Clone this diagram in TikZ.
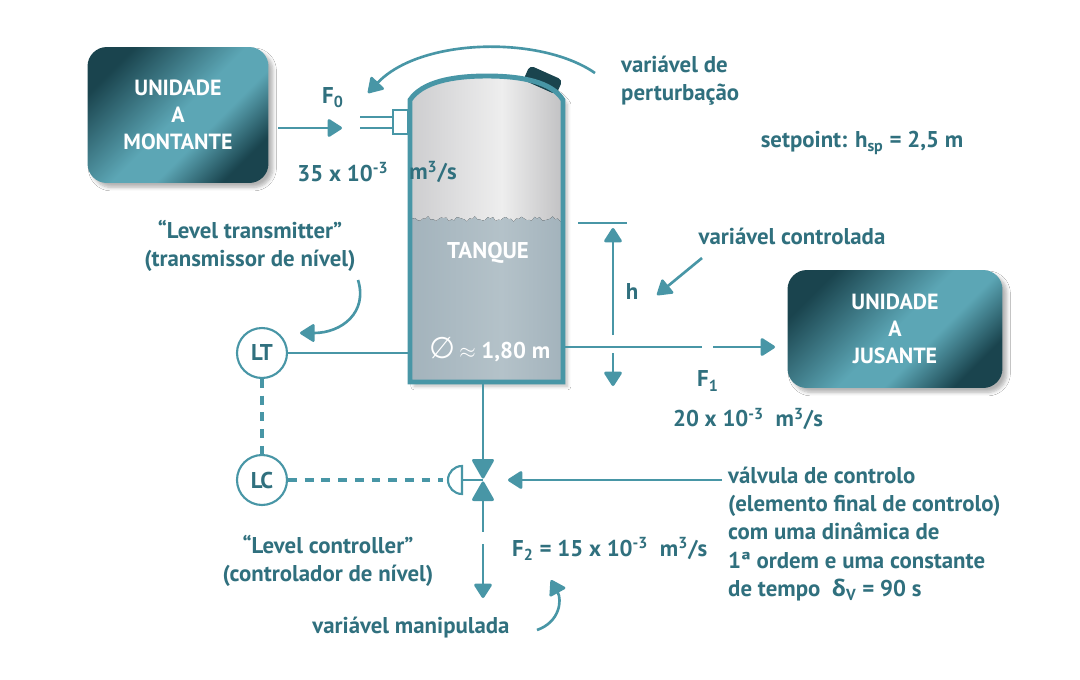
\documentclass[tikz,border=0pt]{standalone}
\usepackage{fontspec}
\setmainfont{PT Sans}
\newfontfamily\grk{Open Sans}
\newfontfamily\sym{DejaVu Sans}
\usetikzlibrary{arrows.meta,shadows.blur}

\definecolor{pteal}{RGB}{72,150,166}
\definecolor{ptext}{RGB}{48,112,126}
\definecolor{pdark}{RGB}{26,68,78}
\definecolor{plight}{RGB}{92,166,181}
\definecolor{pwater}{RGB}{163,179,188}
\definecolor{pwaterl}{RGB}{180,194,201}
\definecolor{pshell}{RGB}{205,205,207}
\definecolor{pshelll}{RGB}{238,238,238}

\pgfdeclarehorizontalshading{unitshade}{100bp}{color(0bp)=(pdark); color(25bp)=(pdark); color(50bp)=(plight); color(60bp)=(plight); color(75bp)=(pdark); color(100bp)=(pdark)}
\pgfdeclarehorizontalshading{shellshade}{100bp}{color(0bp)=(pshell); color(25bp)=(pshell); color(55bp)=(pshelll); color(75bp)=(pshell!85!gray); color(100bp)=(pshell!85!gray)}
\pgfdeclarehorizontalshading{watershade}{100bp}{color(0bp)=(pwater); color(25bp)=(pwater); color(55bp)=(pwaterl); color(75bp)=(pwater); color(100bp)=(pwater)}

\tikzset{
  pipe/.style={draw=pteal,line width=1.7pt},
  flow/.style={pipe,-{Triangle[round,width=11pt,length=9pt]}},
  note/.style={draw=pteal,line width=1.5pt,-{Triangle[round,width=11pt,length=9pt]}},
  signal/.style={draw=pteal,line width=2pt,dash pattern=on 5pt off 4.5pt},
  unit/.style={rounded corners=11pt,shading=unitshade,shading angle=-45,text=white,align=center,
    font=\bfseries\fontsize{12.5}{15.5}\selectfont,blur shadow={shadow blur steps=6,shadow opacity=30}},
  instr/.style={circle,draw=pteal,line width=1.2pt,fill=white,minimum size=1cm,inner sep=0pt},
  lidcap/.style={rectangle,fill=pdark,rounded corners=2.5pt,minimum width=0.72cm,minimum height=0.32cm,inner sep=0pt}
}

\begin{document}
\begin{tikzpicture}[x=0.02cm,y=-0.02cm,font=\bfseries\fontsize{13}{16}\selectfont,every node/.append style={text=ptext}]
  \useasboundingbox[fill=white] (0,0) rectangle (1080,680);

  % units
  \node[unit,minimum width=3.62cm,minimum height=2.72cm] (montante) at (178,115) {UNIDADE\\A\\MONTANTE};
  \node[unit,minimum width=4.3cm,minimum height=2.36cm] (jusante) at (895,329) {UNIDADE\\A\\JUSANTE};

  % tank
  \fill[shading=shellshade,blur shadow={shadow blur steps=6,shadow opacity=25}]
    (410,100) .. controls (422,82) and (452,76) .. (487,76) .. controls (522,76) and (552,82) .. (563,100) -- (563,382) -- (410,382) -- cycle;
  \fill[shading=watershade] (410,382) -- (410,220) -- plot[domain=410:563,samples=60] (\x,{219+1.6*sin((\x-400)*23)+1.2*sin((\x-400)*61)}) -- (563,382) -- cycle;
  \node[lidcap,rotate=-24] (top) at (543,80) {};
  \draw[pteal,line width=2.8pt] (410,100) .. controls (422,82) and (452,76) .. (487,76) .. controls (522,76) and (552,82) .. (563,100) -- (563,382) -- (410,382) -- cycle;
  \node[text=white] (tanque) at (488,253) {TANQUE};
  \node[text=white] (diam) at (490,350) {{\sym\mdseries\fontsize{17}{17}\selectfont ∅}$\,\approx$ 1,80 m};

  % inlet
  \coordinate (f0a) at (278,128);
  \coordinate (f0b) at (342,128);
  \draw[flow] (f0a) -- (f0b);
  \draw[pteal,line width=1.3pt] (360,117) -- (393,117) (360,128) -- (393,128);
  \draw[pteal,line width=1.3pt,fill=white] (393,110) rectangle (408,134);
  \node (f0) at (333,98) {F\textsubscript{0}};
  \node (q0) at (343,172) {35 x 10\textsuperscript{-3}};
  \node (q0u) at (433,172) {m\textsuperscript{3}/s};
  \draw[note] (595,73) .. controls (540,35) and (420,38) .. (368,93);
  \node[anchor=west,align=left] (pert) at (615,81) {variável de\\perturbação};
  \node (sp) at (862,143) {setpoint: h\textsubscript{sp} = 2,5 m};

  % level h
  \draw[pipe] (578,223) -- (627,223);
  \draw[flow] (613,335) -- (613,228);
  \draw[flow] (613,353) -- (613,386);
  \node (hlab) at (632,292) {h};
  \node (ctrl) at (792,236) {variável controlada};
  \draw[note] (702,258) -- (657,295);

  % outlet
  \coordinate (f1a) at (702,347);
  \coordinate (f1b) at (713,347);
  \draw[pipe] (565,347) -- (f1a);
  \draw[flow] (f1b) -- (775,347);
  \node (f1) at (708,381) {F\textsubscript{1}};
  \node (q1) at (748,419) {20 x 10\textsuperscript{-3}\ \ m\textsuperscript{3}/s};

  % instruments
  \node[instr] (lt) at (262,353) {LT};
  \node[instr] (lc) at (262,480) {LC};
  \draw[pipe] (lt) -- (410,353);
  \draw[signal] (lt) -- (lc);
  \draw[signal] (lc) -- (443,480);
  \node[align=center] (ltlab) at (250,246) {“Level transmitter”\\(transmissor de nível)};
  \draw[note] (358,280) .. controls (368,312) and (342,333) .. (300,333);
  \node[align=center] (lclab) at (328,561) {“Level controller”\\(controlador de nível)};

  % valve
  \draw[pipe] (483,382) -- (483,459);
  \draw[pipe] (483,501) -- (483,532);
  \draw[flow] (483,544) -- (483,598);
  \fill[pteal,rounded corners=1.5pt] (471,459) -- (495,459) -- (483,480) -- cycle;
  \fill[pteal,rounded corners=1.5pt] (471,501) -- (495,501) -- (483,480) -- cycle;
  \draw[pteal,line width=1.2pt] (462,480) -- (483,480);
  \draw[pteal,line width=1.2pt,fill=white] (462,466) arc (270:90:14) -- cycle;
  \draw[flow] (722,480) -- (508,480);
  \node[anchor=west,align=left] (valvlab) at (722,534) {válvula de controlo\\(elemento final de controlo)\\com uma dinâmica de\\1ª ordem e uma constante\\de tempo\ \ {\grk δ}\textsubscript{V} = 90 s};
  \node[anchor=west] (f2) at (506,549) {F\textsubscript{2} = 15 x 10\textsuperscript{-3}\ \ m\textsuperscript{3}/s};
  \node (manip) at (411,628) {variável manipulada};
  \draw[note] (537,630) .. controls (560,622) and (562,600) .. (551,580);
\end{tikzpicture}
\end{document}
